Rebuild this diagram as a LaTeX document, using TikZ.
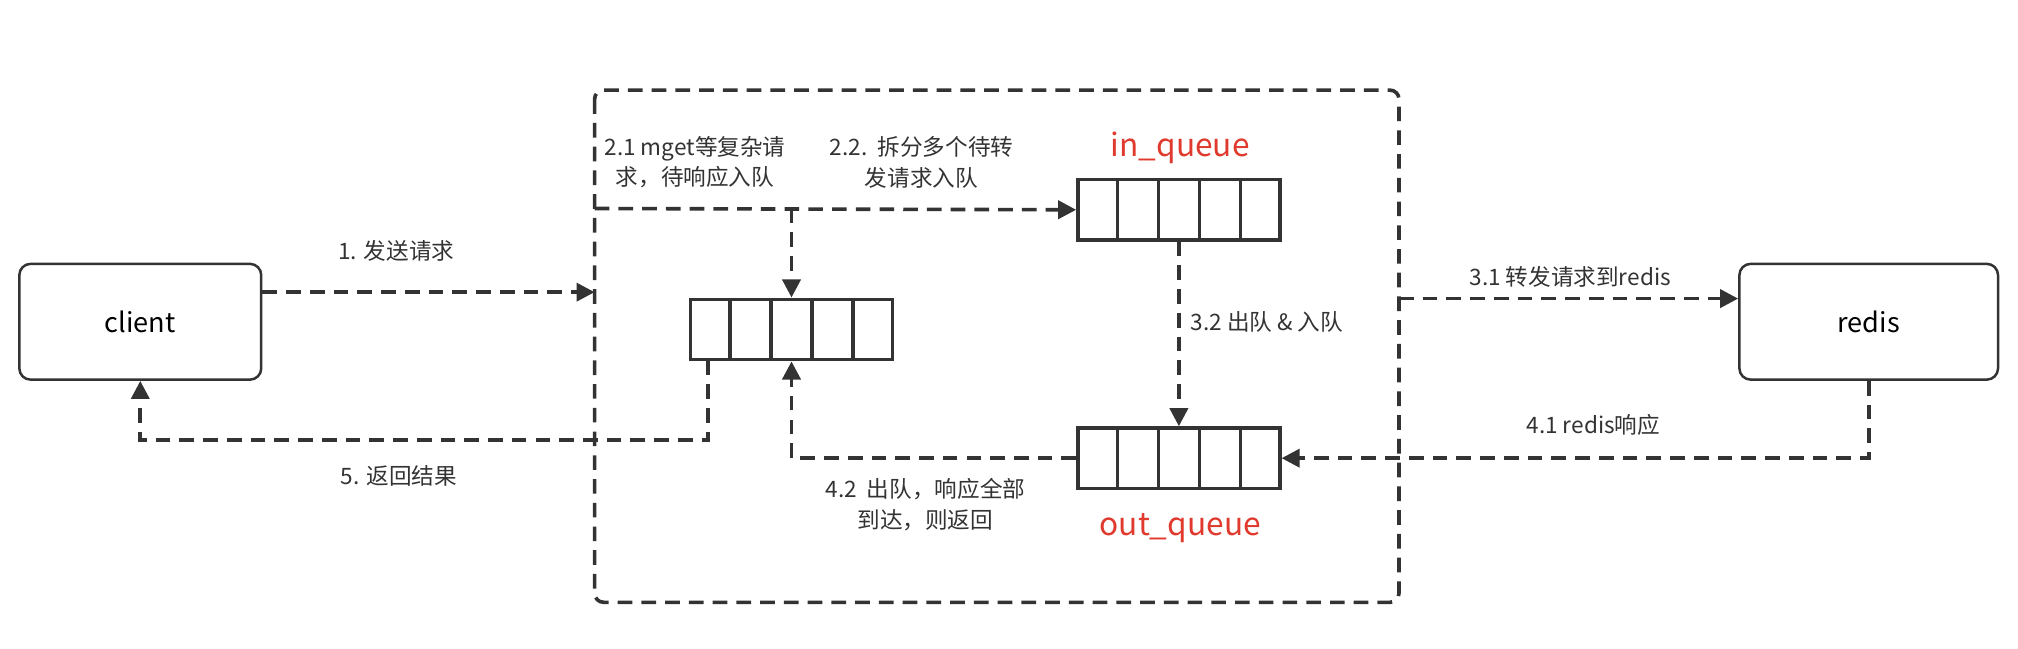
\documentclass[tikz,border=0pt]{standalone}
\usepackage{fontspec}
\setmainfont{Noto Sans CJK SC}
\usetikzlibrary{arrows.meta,calc}
\definecolor{ln}{HTML}{333333}
\definecolor{rd}{HTML}{E03A2E}
\begin{document}
\begin{tikzpicture}[x=0.02cm,y=-0.02cm,
  dsh/.style={draw=ln,line width=1.6pt,dash pattern=on 6.5pt off 4pt},
  arr/.style={dsh,-{Triangle[length=8pt,width=8pt]}},
  box/.style={draw=ln,line width=1.1pt,rounded corners=5pt,minimum height=1.8cm,font=\fontsize{12}{14}\selectfont},
  lbl/.style={font=\fontsize{10}{13.5}\selectfont,text=ln,align=center},
  qlbl/.style={font=\fontsize{14}{16}\selectfont,text=rd}]
\useasboundingbox (0,0) rectangle (1568,504);
\newcommand{\myqueue}[3]{%
  \node[draw=ln,line width=1.5pt,minimum width=3.14cm,minimum height=0.94cm,inner sep=0] (#1) at (#2,#3) {};
  \foreach \i in {1,...,4}{\draw[ln,line width=1.5pt] ($(#1.south west)!\i/5!(#1.south east)$) -- ($(#1.north west)!\i/5!(#1.north east)$);}
}
\node[box,minimum width=3.76cm] (client) at (109,250) {client};
\node[box,minimum width=4.02cm] (redis) at (1452,250) {redis};
\draw[dsh,rounded corners=4pt] (462,70) rectangle (1087,468);
\myqueue{mq}{615}{256}
\myqueue{inq}{916}{163}
\myqueue{outq}{916}{356}
\node[qlbl] (inl) at (917,115) {in\_queue};
\node[qlbl] (outl) at (917,410) {out\_queue};
% 1
\coordinate (c1) at (462,227);
\draw[arr] (client.east |- c1) -- (c1);
\node[lbl] (l1) at (308,195) {1. 发送请求};
% 2.2 and 2.1
\coordinate (c22) at (462,162);
\coordinate (c21) at (615,162);
\draw[arr] (c22) -- (inq.west);
\draw[arr] (c21) -- (mq.north);
\node[lbl] (l21) at (540,126) {2.1 mget等复杂请\\求，待响应入队};
\node[lbl] (l22) at (716,126) {2.2.\ \ 拆分多个待转\\发请求入队};
% 3.2
\draw[arr] (inq.south) -- (outq.north);
\node[lbl,anchor=west] (l32) at (919,250) {3.2 出队 \& 入队};
% 3.1
\coordinate (c31) at (1087,232);
\draw[arr] (c31) -- (redis.west |- c31);
\node[lbl] (l31) at (1220,215) {3.1 转发请求到redis};
% 4.1
\draw[arr] (redis.south) |- (outq.east);
\node[lbl] (l41) at (1238,330) {4.1 redis响应};
% 4.2
\draw[arr] (outq.west) -| (mq.south);
\node[lbl] (l42) at (719,392) {4.2\ \ 出队，响应全部\\到达，则返回};
% 5
\coordinate (c5a) at (550,280);
\coordinate (c5b) at (550,342);
\draw[arr] (c5a) -- (c5b) -| (client.south);
\node[lbl] (l5) at (310,370) {5. 返回结果};
\end{tikzpicture}
\end{document}
